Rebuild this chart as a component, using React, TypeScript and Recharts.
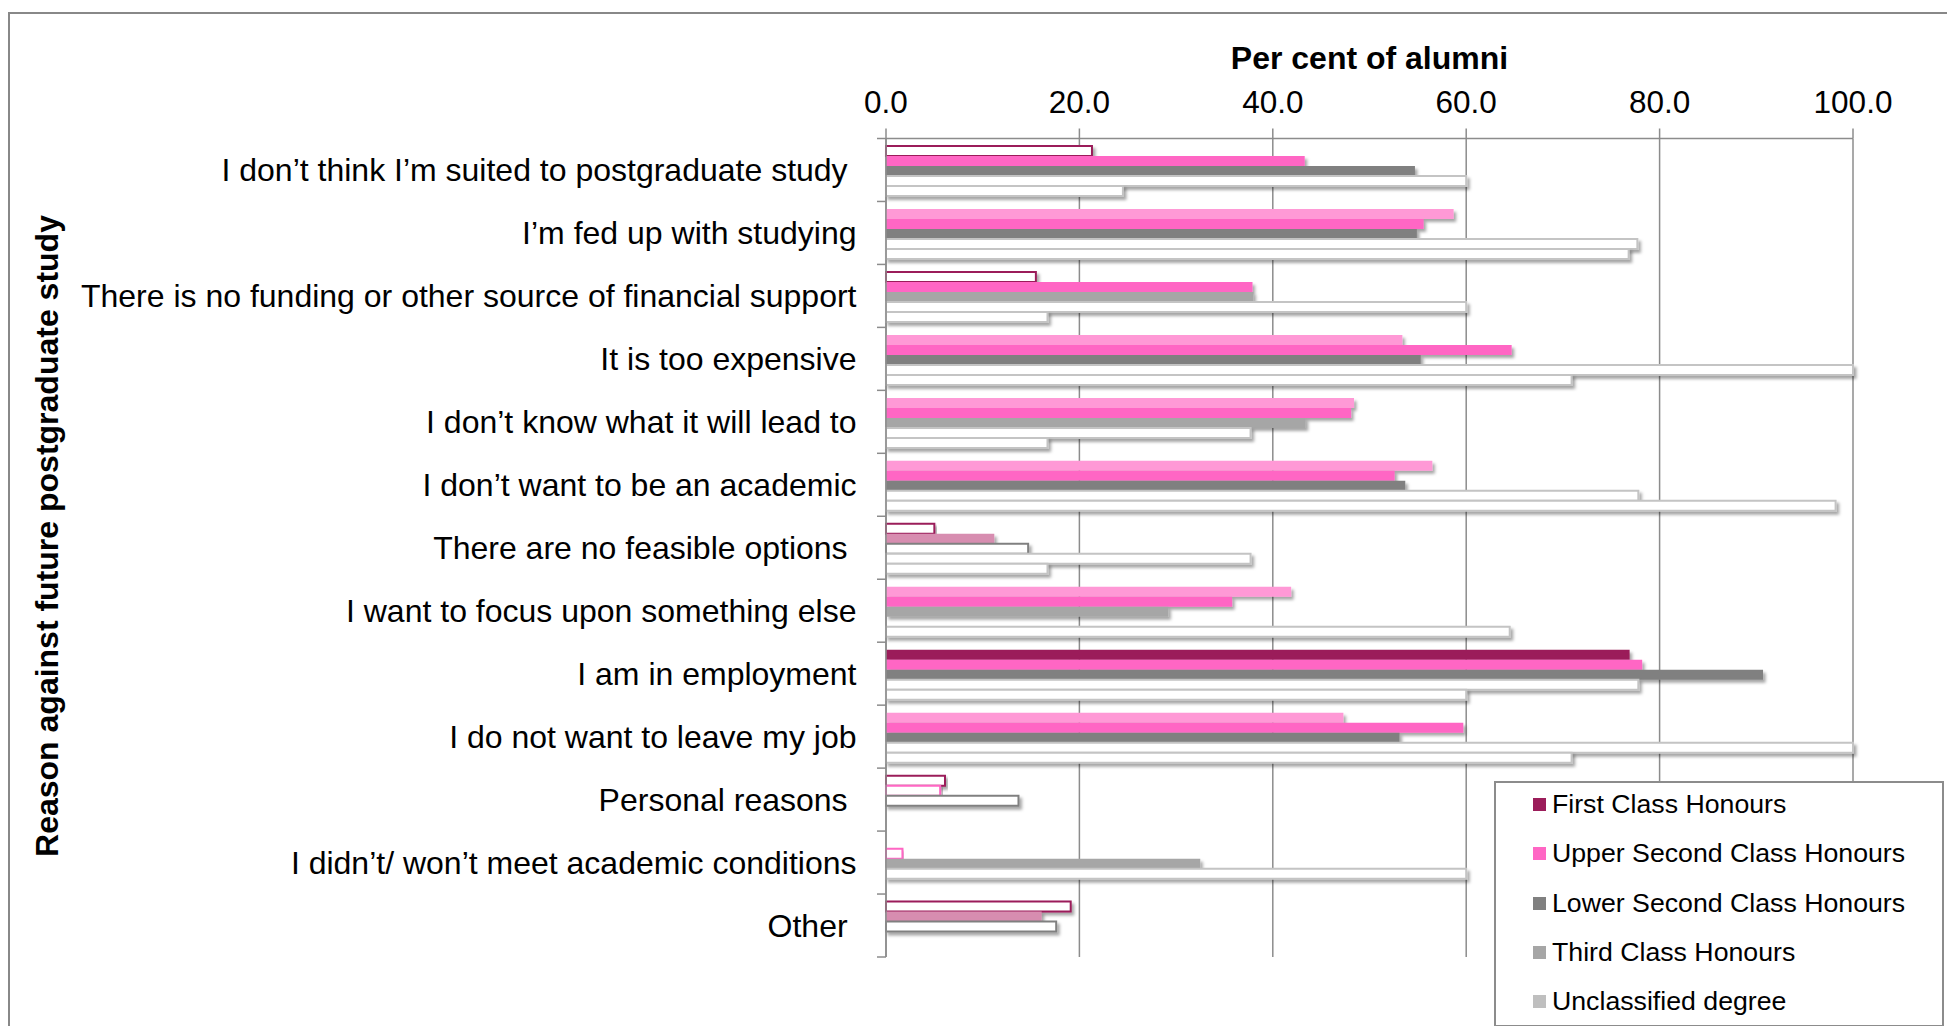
import React from 'react';
import { BarChart, Bar, XAxis, YAxis, CartesianGrid, Cell } from 'recharts';

const categories = [
  'I don\u2019t think I\u2019m suited to postgraduate study ',
  'I\u2019m fed up with studying',
  'There is no funding or other source of financial support',
  'It is too expensive',
  'I don\u2019t know what it will lead to',
  'I don\u2019t want to be an academic',
  'There are no feasible options ',
  'I want to focus upon something else',
  'I am in employment',
  'I do not want to leave my job',
  'Personal reasons ',
  'I didn\u2019t/ won\u2019t meet academic conditions',
  'Other ',
];

const firstClass = [21.3, 58.7, 15.5, 53.4, 48.4, 56.5, 5.0, 41.9, 76.9, 47.3, 6.1, null, 19.1];
const upperSecond = [43.3, 55.6, 37.9, 64.7, 48.1, 52.6, 11.2, 35.8, 78.2, 59.7, 5.6, 1.7, 16.1];
const lowerSecond = [54.7, 54.9, 38.0, 55.3, 43.4, 53.7, 14.7, 29.2, 90.7, 53.1, 13.7, 32.5, 17.6];
const thirdClass = [60.0, 77.7, 60.0, 100.0, 37.7, 77.8, 37.7, null, 77.8, 100.0, null, 60.0, null];
const unclassified = [24.5, 76.8, 16.7, 70.9, 16.7, 98.2, 16.7, 64.5, 60.0, 70.9, null, null, null];

const xTicks = [0, 20, 40, 60, 80, 100];

// the source workbook formats single points differently, so keep a look per point
const firstLook = ['open', 'light', 'open', 'light', 'light', 'light', 'open', 'light', 'solid', 'light', 'open', 'open', 'open'];
const upperLook = ['solid', 'solid', 'solid', 'solid', 'solid', 'solid', 'mauve', 'solid', 'solid', 'solid', 'open', 'open', 'mauve'];
const lowerLook = ['solid', 'solid', 'pale', 'solid', 'pale', 'solid', 'open', 'pale', 'solid', 'solid', 'open', 'pale', 'open'];

const series = [
  { key: 'first', name: 'First Class Honours', color: '#9b1d5a', looks: firstLook },
  { key: 'upper', name: 'Upper Second Class Honours', color: '#ff66c4', looks: upperLook },
  { key: 'lower', name: 'Lower Second Class Honours', color: '#808080', looks: lowerLook },
  { key: 'third', name: 'Third Class Honours', color: '#a6a6a6', looks: null },
  { key: 'unclassified', name: 'Unclassified degree', color: '#bfbfbf', looks: null },
];

const data = categories.map((reason, i) => ({
  reason,
  first: firstClass[i],
  upper: upperSecond[i],
  lower: lowerSecond[i],
  third: thirdClass[i],
  unclassified: unclassified[i],
}));

const W = 1955;
const H = 1034;
const PLOT_LEFT = 886;
const PLOT_TOP = 138.5;
const PLOT_RIGHT = 1853;
const PLOT_BOTTOM = 957;
const BAND = (PLOT_BOTTOM - PLOT_TOP) / categories.length;
const AXIS = '#8c8c8c';
const FONT = '"Liberation Sans", Arial, Helvetica, sans-serif';

const lookStyle = (look: string | null, color: string) => {
  if (look === 'light') return { fill: '#ff99d6', stroke: 'none' };
  if (look === 'mauve') return { fill: '#d78db0', stroke: 'none' };
  if (look === 'pale') return { fill: '#a6a6a6', stroke: 'none' };
  if (look === 'open') return { fill: '#ffffff', stroke: color, strokeWidth: 2 };
  if (look === 'solid') return { fill: color, stroke: 'none' };
  // third class and unclassified come out as white bars with a grey rim
  return { fill: '#ffffff', stroke: '#c4c4c4', strokeWidth: 2 };
};

const ReasonTick = (props: any) => {
  const { y, payload, index } = props;
  return (
    <g>
      <line x1={PLOT_LEFT - 9} x2={PLOT_LEFT} y1={y - BAND / 2} y2={y - BAND / 2} stroke={AXIS} strokeWidth={1.5} />
      {index === categories.length - 1 && (
        <line x1={PLOT_LEFT - 9} x2={PLOT_LEFT} y1={y + BAND / 2} y2={y + BAND / 2} stroke={AXIS} strokeWidth={1.5} />
      )}
      <text
        x={PLOT_LEFT - 29.5}
        y={y}
        textAnchor="end"
        dominantBaseline="central"
        fontSize={32}
        fontFamily={FONT}
        fill="#000"
        style={{ whiteSpace: 'pre' }}
      >
        {payload.value}
      </text>
    </g>
  );
};

const XTitle = (props: any) => {
  const { viewBox } = props;
  return (
    <text x={viewBox.x + viewBox.width / 2} y={69} textAnchor="middle" fontSize={32} fontWeight="bold" fontFamily={FONT} fill="#000">
      Per cent of alumni
    </text>
  );
};

const YTitle = () => (
  <text
    transform="translate(47,536) rotate(-90)"
    textAnchor="middle"
    dominantBaseline="central"
    fontSize={32}
    fontWeight="bold"
    fontFamily={FONT}
    fill="#000"
  >
    Reason against future postgraduate study
  </text>
);

export default function App() {
  return (
    <div style={{ position: 'relative', width: W, height: H, margin: -8, overflow: 'hidden', background: '#fff', fontFamily: FONT }}>
      <svg width={0} height={0} style={{ position: 'absolute' }}>
        <defs>
          <filter id="barShadow" x="-5%" y="-50%" width="110%" height="250%">
            <feDropShadow dx={2.5} dy={3} stdDeviation={1.6} floodColor="#000" floodOpacity={0.35} />
          </filter>
        </defs>
      </svg>
      <div style={{ position: 'absolute', left: 8, top: 12, width: 2100, height: 1200, border: '2px solid #888' }} />
      <div style={{ position: 'absolute', left: 0, top: 0 }}>
        <BarChart
          width={W}
          height={H}
          data={data}
          layout="vertical"
          margin={{ top: 0, right: W - PLOT_RIGHT, bottom: H - PLOT_BOTTOM, left: 0 }}
          barCategoryGap="12%"
          barGap={0}
        >
          <CartesianGrid horizontal={false} stroke={AXIS} strokeWidth={1.5} />
          <XAxis
            type="number"
            orientation="top"
            domain={[0, 100]}
            ticks={xTicks}
            tickFormatter={(v: number) => v.toFixed(1)}
            height={PLOT_TOP}
            tickSize={10}
            tickMargin={16}
            axisLine={{ stroke: AXIS, strokeWidth: 1.5 }}
            tickLine={{ stroke: AXIS, strokeWidth: 1.5 }}
            tick={{ fontSize: 31.5, fill: '#000', fontFamily: FONT }}
            label={<XTitle />}
          />
          <YAxis
            type="category"
            dataKey="reason"
            width={PLOT_LEFT}
            interval={0}
            tickLine={false}
            axisLine={{ stroke: AXIS, strokeWidth: 1.5 }}
            tick={<ReasonTick />}
            label={<YTitle />}
          />
          {series.map((s) => (
            <Bar key={s.key} dataKey={s.key} name={s.name} fill={s.color} isAnimationActive={false}>
              {data.map((_, i) => (
                <Cell key={i} {...lookStyle(s.looks ? s.looks[i] : null, s.color)} filter="url(#barShadow)" />
              ))}
            </Bar>
          ))}
        </BarChart>
      </div>
      <div
        style={{
          position: 'absolute',
          left: 1494,
          top: 781,
          width: 450,
          height: 246,
          border: '2px solid #8c8c8c',
          background: '#fff',
          boxSizing: 'border-box',
        }}
      >
        {series.map((s, i) => (
          <div
            key={s.key}
            style={{ position: 'absolute', left: 37, top: 21.5 + i * 49.3 - 15, height: 30, display: 'flex', alignItems: 'center' }}
          >
            <span style={{ display: 'inline-block', width: 13, height: 13, background: s.color, marginRight: 6 }} />
            <span style={{ fontSize: 26.7, color: '#000', whiteSpace: 'nowrap' }}>{s.name}</span>
          </div>
        ))}
      </div>
    </div>
  );
}
